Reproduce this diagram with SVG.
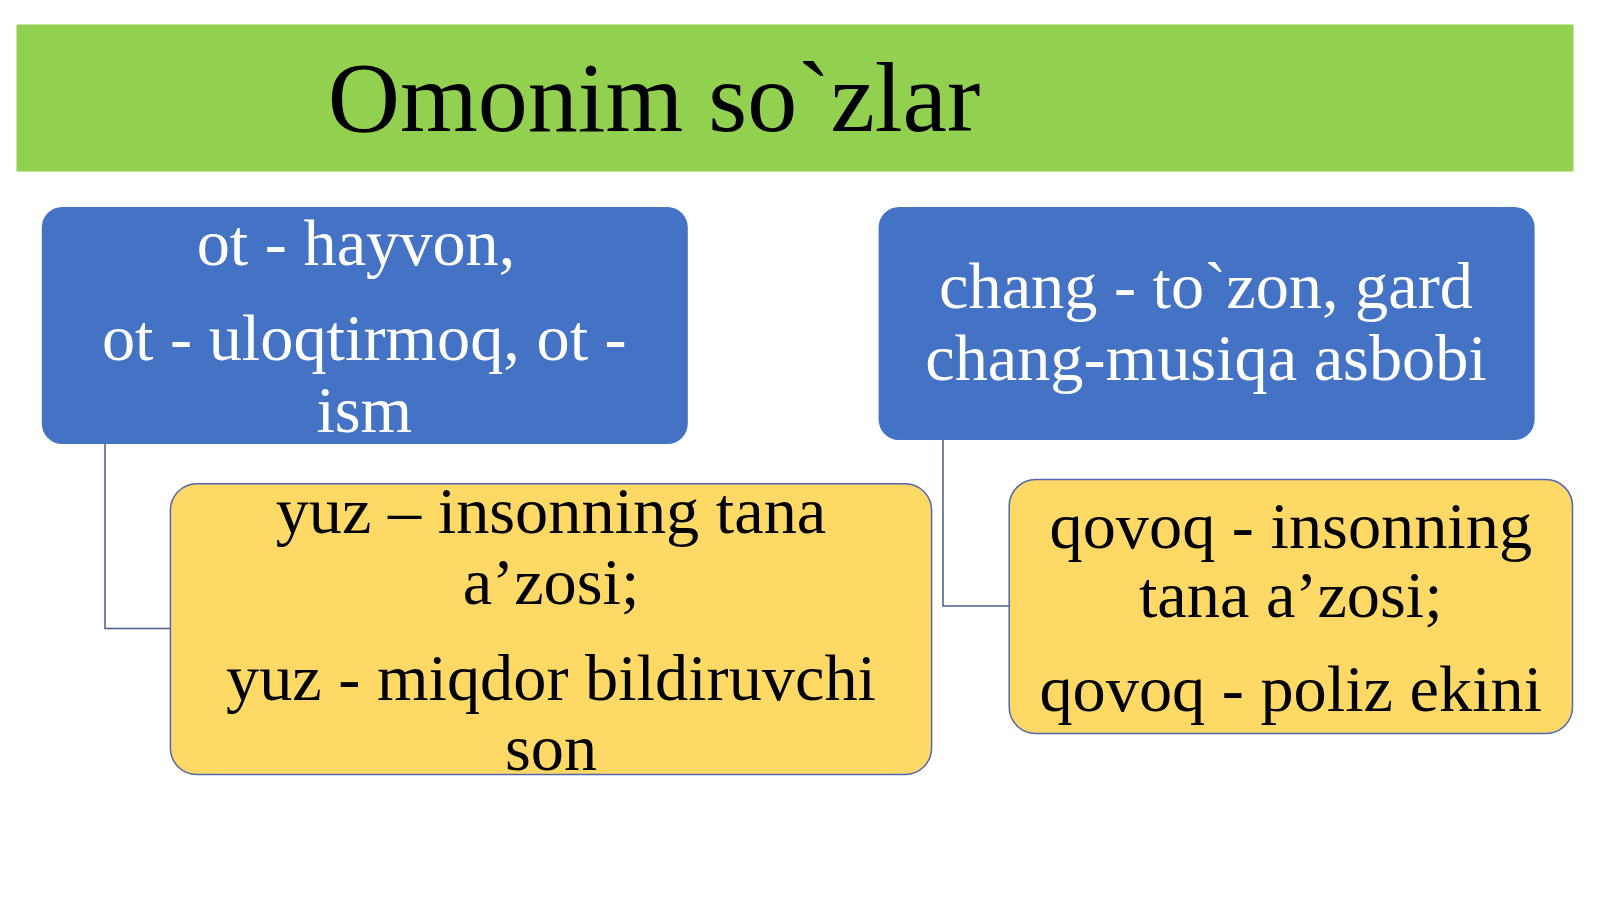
<svg xmlns="http://www.w3.org/2000/svg" width="1600" height="899" viewBox="0 0 1600 899">
<style>
.t{font-family:"Liberation Serif","Times New Roman",serif;text-anchor:middle}
.w{fill:#FFFFFF;font-size:66.3px}
.k{fill:#000000;font-size:66.3px}
.blue{fill:#4472C4}
.yel{fill:#FFD966;stroke:#5466B0;stroke-width:1.5}
.con{fill:none;stroke:#4A5A8A;stroke-width:1.5}
</style>
<rect width="1600" height="899" fill="#FFFFFF"/>
<g id="title">
<rect x="16.5" y="24.5" width="1557" height="147" fill="#92D050"/>
<text class="t" x="654" y="130.6" font-size="100" fill="#000000">Omonim so`zlar</text>
</g>
<g id="connectors">
<polyline class="con" points="105,444 105,628.5 170.4,628.5"/>
<polyline class="con" points="943,440 943,606 1009.2,606"/>
</g>
<g id="node-ot">
<rect class="blue" x="41.8" y="207" width="646" height="237" rx="20.4"/>
<text class="t w" x="356" y="265.3">ot - hayvon,</text>
<text class="t w" x="364.3" y="360.2">ot - uloqtirmoq, ot -</text>
<text class="t w" x="364.3" y="431.6">ism</text>
</g>
<g id="node-chang">
<rect class="blue" x="878.6" y="207" width="656" height="233" rx="20.4"/>
<text class="t w" x="1206" y="308.2">chang - to`zon, gard</text>
<text class="t w" x="1206" y="379.6">chang-musiqa asbobi</text>
</g>
<g id="node-yuz">
<rect class="yel" x="170.4" y="483.7" width="761.2" height="290.8" rx="26.5"/>
<text class="t k" x="551" y="532.7">yuz – insonning tana</text>
<text class="t k" x="551" y="604">a’zosi;</text>
<text class="t k" x="551" y="700">yuz - miqdor bildiruvchi</text>
<text class="t k" x="551" y="770.4">son</text>
</g>
<g id="node-qovoq">
<rect class="yel" x="1009.2" y="479.6" width="563.3" height="254" rx="26.5"/>
<text class="t k" x="1290.8" y="548">qovoq - insonning</text>
<text class="t k" x="1290.8" y="617.3">tana a’zosi;</text>
<text class="t k" x="1290.8" y="711.2">qovoq - poliz ekini</text>
</g>
</svg>
